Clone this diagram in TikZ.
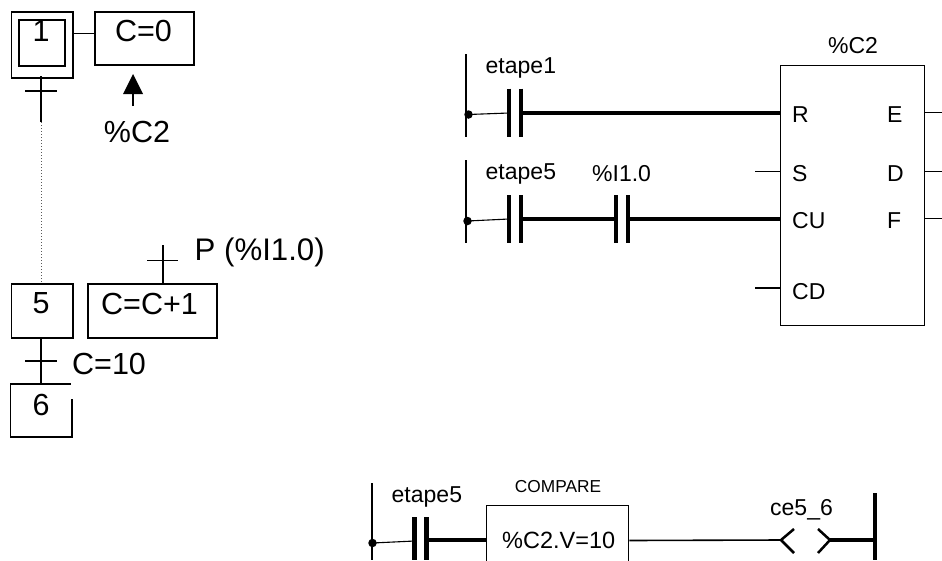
\documentclass[tikz,border=0pt]{standalone}
\usepackage{fontspec}
\setmainfont{Liberation Sans}
\tikzset{
  x=1pt,y=-1pt,
  boxn/.style={draw=black,line width=1.6pt,inner sep=0pt,anchor=north west},
  big/.style={inner sep=0pt,font=\fontsize{30.5}{30.5}\selectfont},
  small/.style={inner sep=0pt,font=\fontsize{23}{23}\selectfont},
  tiny/.style={inner sep=0pt,font=\fontsize{17.3}{17.3}\selectfont},
  wire/.style={line width=1.6pt},
  thin wire/.style={line width=1.1pt},
  power/.style={line width=4pt},
  plate/.style={line width=4.4pt},
  dotn/.style={circle,fill=black,inner sep=0pt,minimum size=8.5pt},
}
\begin{document}
\begin{tikzpicture}
\useasboundingbox (0,0) rectangle (942,560);
% Grafcet
\node[boxn,minimum width=61.5pt,minimum height=66pt] (s1o) at (10.5,11) {};
\node[boxn,minimum width=46pt,minimum height=46pt] (s1i) at (18,19) {};
\node[big] (s1t) at (41,31) {1};
\node[boxn,minimum width=99pt,minimum height=53pt] (a1) at (94,11) {};
\node[big] (a1t) at (143.5,31) {C=0};
\draw[wire] (s1o.east |- 0,33.5) -- (a1.west |- 0,33.5);
\coordinate (t1a) at (41,76);
\coordinate (t1b) at (41,122);
\coordinate (t1l) at (25,91);
\coordinate (t1r) at (57,91);
\draw[wire] (t1a) -- (t1b);
\draw[wire] (t1l) -- (t1r);
\node[big] (c2t) at (137,131.5) {\%C2};
\coordinate (arT) at (133,74);
\coordinate (arB) at (133,106);
\draw[wire] (arB) -- (133,92);
\fill (arT) -- (143,94) -- (123,94) -- cycle;
\node[boxn,minimum width=61.5pt,minimum height=54pt] (s5) at (10.5,283) {};
\node[big] (s5t) at (41,303.5) {5};
\draw[line width=1pt,dotted,line cap=butt,gray!70!black] (t1b) -- (s5.north -| t1b);
\node[boxn,minimum width=129pt,minimum height=54pt] (a5) at (87,283) {};
\node[big] (a5t) at (149.5,303.5) {C=C+1};
\coordinate (t5top) at (163,245);
\coordinate (t5l) at (147,260.5);
\coordinate (t5r) at (178,260.5);
\draw[wire] (t5top) -- (t5top |- a5.north);
\draw[wire] (t5l) -- (t5r);
\node[big,font=\fontsize{31.2}{31.2}\selectfont,anchor=west] (pt) at (194.5,252) {P (\%I1.0)};
\coordinate (s6a) at (70.5,384);
\coordinate (s6b) at (10.5,384);
\coordinate (s6c) at (10.5,437);
\coordinate (s6d) at (72,437);
\coordinate (s6e) at (72,399);
\draw[wire] (s6a) -- (s6b) -- (s6c) -- (s6d) -- (s6e);
\node[big] (s6t) at (41,405) {6};
\draw[wire] (s5.south -| t1a) -- (t1a |- s6a);
\draw[wire] (25,361) -- (57,361);
\node[big,anchor=west] (c10) at (72,364) {C=10};
% Ladder top right
\coordinate (r1a) at (466,54);
\coordinate (r1b) at (466,137);
\draw[thin wire] (r1a) -- (r1b);
\node[dotn] (d1) at (468.5,114.5) {};
\node[small,anchor=west] (e1) at (485.5,68) {etape1};
\coordinate (c1a) at (509,88.5);
\coordinate (c1b) at (509,137);
\coordinate (c1c) at (521,88.5);
\coordinate (c1d) at (521,137);
\draw[plate] (c1a) -- (c1b);
\draw[plate] (c1c) -- (c1d);
\draw[thin wire] (d1.center) -- (c1a |- 0,113);
\node[draw=black,line width=1.4pt,inner sep=0pt,anchor=north west,minimum width=143.5pt,minimum height=260pt] (blk) at (780,65) {};
\draw[power] (c1c |- 0,113) -- (blk.west |- 0,113);
\node[small] (c2h) at (853,46) {\%C2};
\node[small,anchor=west] (lR) at (792,115) {R};
\node[small,anchor=west] (lE) at (887,115) {E};
\node[small,anchor=west] (lS) at (792,174) {S};
\node[small,anchor=west] (lD) at (887,174) {D};
\node[small,anchor=west] (lCU) at (792,221) {CU};
\node[small,anchor=west] (lF) at (887,221) {F};
\node[small,anchor=west] (lCD) at (792,292) {CD};
\draw[thin wire] (755,171.5) -- (blk.west |- 0,171.5);
\draw[thin wire] (755,288) -- (blk.west |- 0,288);
\draw[thin wire] (blk.east |- 0,112.5) -- (942,112.5);
\draw[thin wire] (blk.east |- 0,171.5) -- (942,171.5);
\draw[thin wire] (blk.east |- 0,218.5) -- (942,218.5);
\coordinate (r2a) at (466,160);
\coordinate (r2b) at (466,243);
\draw[thin wire] (r2a) -- (r2b);
\node[dotn] (d2) at (467.5,221) {};
\node[small,anchor=west] (e5) at (485.5,174) {etape5};
\node[small,anchor=west] (i10) at (592,174) {\%I1.0};
\draw[plate] (509,195) -- (509,243);
\draw[plate] (521,195) -- (521,243);
\draw[plate] (616,195) -- (616,243);
\draw[plate] (628,195) -- (628,243);
\draw[thin wire] (d2.center) -- (509,219);
\draw[power] (521,218.7) -- (616,218.7);
\draw[power] (628,218.7) -- (blk.west |- 0,218.7);
% Ladder bottom
\coordinate (r3a) at (372,483);
\coordinate (r3b) at (372,560);
\draw[thin wire] (r3a) -- (r3b);
\node[dotn] (d3) at (372.5,543) {};
\node[small,anchor=west] (e5b) at (391.5,497) {etape5};
\node[tiny] (cmp) at (558,487) {COMPARE};
\node[draw=black,line width=1.4pt,inner sep=0pt,anchor=north west,minimum width=142pt,minimum height=70pt] (cb) at (486,505) {};
\node[small,font=\fontsize{23.5}{23.5}\selectfont,anchor=west] (cbt) at (502,540) {\%C2.V=10};
\draw[plate] (414.5,517) -- (414.5,560);
\draw[plate] (426.5,517) -- (426.5,560);
\draw[thin wire] (d3.center) -- (414.5,541);
\draw[power] (426.5,540) -- (cb.west |- 0,540);
\coordinate (cl) at (781,540);
\coordinate (cr) at (830,540);
\draw[wire] (cb.east |- 0,540.5) -- (cl);
\draw[line width=2.5pt] (794,529) -- (cl) -- (794,553);
\draw[line width=2.5pt] (818,529) -- (cr) -- (818,553);
\node[small] (ce) at (801.5,510) {ce5\_6};
\draw[power] (cr) -- (875,540);
\draw[line width=3.5pt] (875,493) -- (875,560);
\end{tikzpicture}
\end{document}
